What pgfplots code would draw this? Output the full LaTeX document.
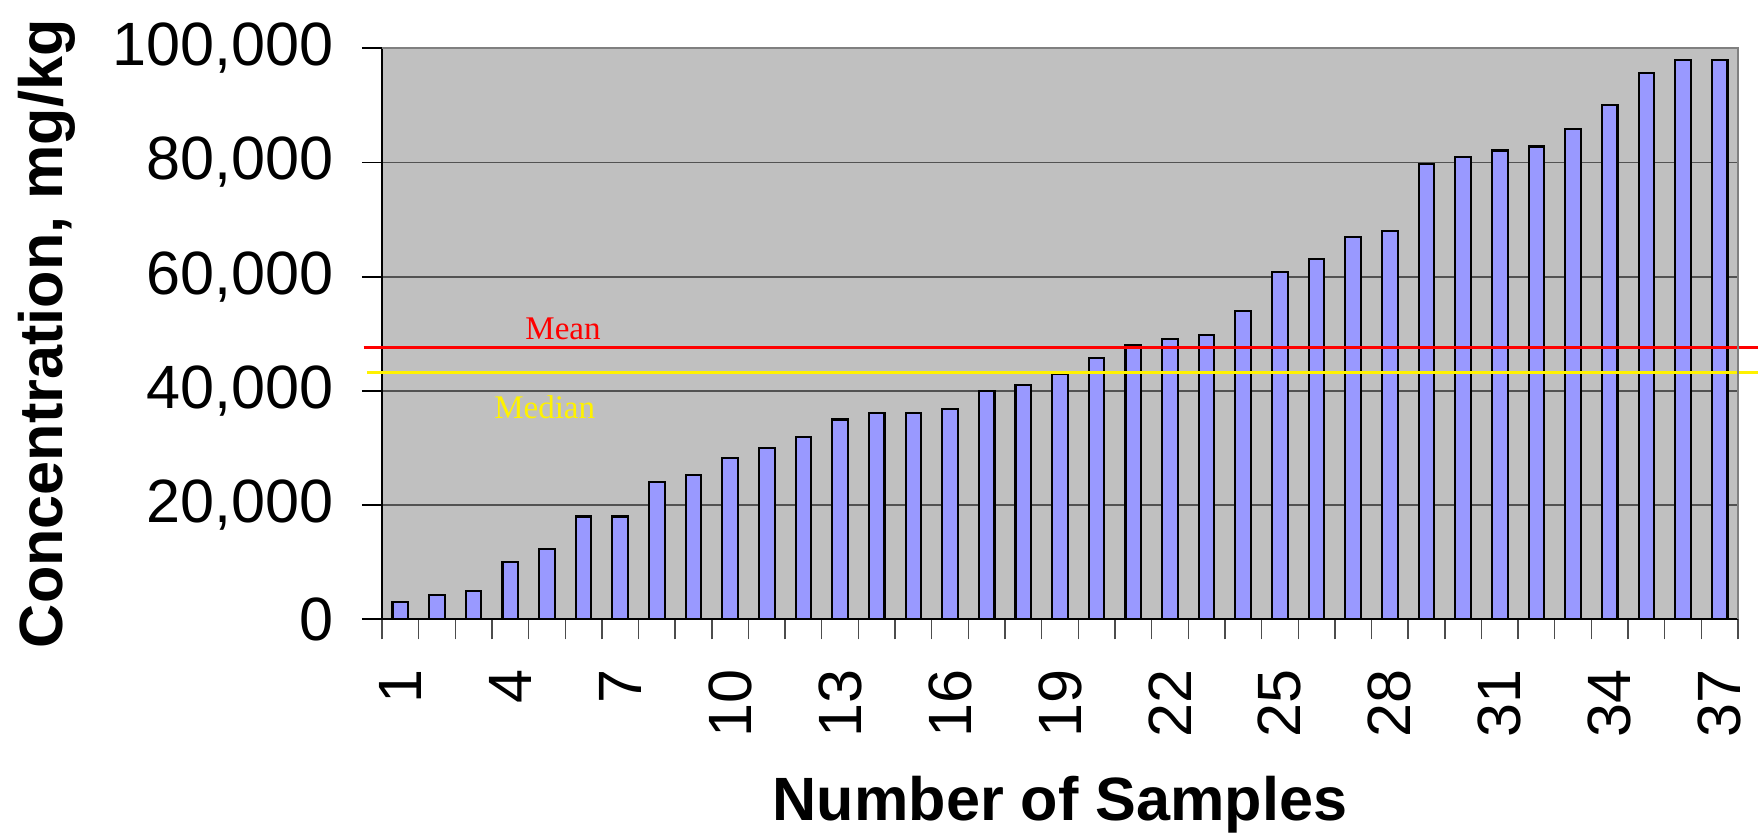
\documentclass[border=0pt]{standalone}
\usepackage{pgfplots}
\pgfplotsset{compat=1.18}
\usepackage{fontspec}
\setmainfont{Liberation Sans}
\newfontfamily\timesfont{Liberation Serif}
\definecolor{barfill}{HTML}{9999FF}
\definecolor{plotbg}{HTML}{C0C0C0}
\begin{document}
\begin{tikzpicture}
\path[use as bounding box] (-3.82cm,-2.137cm) rectangle (13.76cm,6.193cm);
\begin{axis}[
  name=ax, at={(0,0)}, anchor=south west,
  width=13.56cm, height=5.71cm, scale only axis,
  xmin=0.5, xmax=37.5, ymin=0, ymax=100000,
  clip=false,
  axis background/.style={fill=plotbg},
  axis x line*=bottom, axis y line*=left,
  axis line style={black, line width=0.5pt, -},
  tick align=outside,
  major tick length=0.2cm, minor tick length=0.2cm,
  ytick={0,20000,40000,60000,80000,100000},
  yticklabels={0,{20,000},{40,000},{60,000},{80,000},{100,000}},
  scaled y ticks=false,
  xtick={1,4,...,37},
  xticklabels={1,4,7,10,13,16,19,22,25,28,31,34,37},
  minor xtick={0.5,1.5,...,37.5},
  major x tick style={draw=none},
  minor x tick style={black!70, line width=0.4pt},
  ytick style={black, line width=0.5pt},
  ymajorgrids=true,
  major grid style={black!68, line width=0.5pt},
  tick label style={font=\fontsize{17.4}{20}\selectfont},
  yticklabel style={anchor=east, inner sep=0pt, xshift=-0.275cm},
  xticklabel style={yshift=-0.29cm, rotate=90, anchor=east, inner sep=0pt},
  xlabel={Number of Samples},
  ylabel={Concentration, mg/kg},
  xlabel style={font=\fontsize{17.4}{20}\selectfont\bfseries, at={(axis description cs:0.5,-0.352)}, anchor=base},
  ylabel style={font=\fontsize{17.4}{20}\selectfont\bfseries, at={(axis description cs:-0.2353,0.5)}, anchor=base},
]
\addplot[ybar, bar width=0.156cm, fill=barfill, draw=black, line width=0.6pt] coordinates {
(1,3100) (2,4300) (3,5000) (4,10000) (5,12300) (6,18000) (7,18000) (8,24000)
(9,25200) (10,28200) (11,30000) (12,32000) (13,35000) (14,36200) (15,36200)
(16,36900) (17,40000) (18,41100) (19,42900) (20,45700) (21,48000) (22,49100)
(23,49800) (24,54000) (25,60900) (26,63100) (27,66900) (28,68000) (29,79800)
(30,81000) (31,82100) (32,82800) (33,85900) (34,90100) (35,95700) (36,98000)
(37,98000)};
\addplot[red, line width=0.85pt, sharp plot, no marks] coordinates {(0,47570) (38.06,47570)};
\addplot[yellow, line width=0.85pt, sharp plot, no marks] coordinates {(0.1,43190) (38.06,43190)};
\draw[black!50, line width=0.6pt] (rel axis cs:0,1) -- (rel axis cs:1,1) -- (rel axis cs:1,0);
\node[red, font=\timesfont\fontsize{9.4}{11}\selectfont, anchor=base] at (axis cs:5.44,48920) {Mean};
\node[yellow, font=\timesfont\fontsize{9.4}{11}\selectfont, anchor=base] at (axis cs:4.94,35085) {Median};
\end{axis}
\end{tikzpicture}
\end{document}
